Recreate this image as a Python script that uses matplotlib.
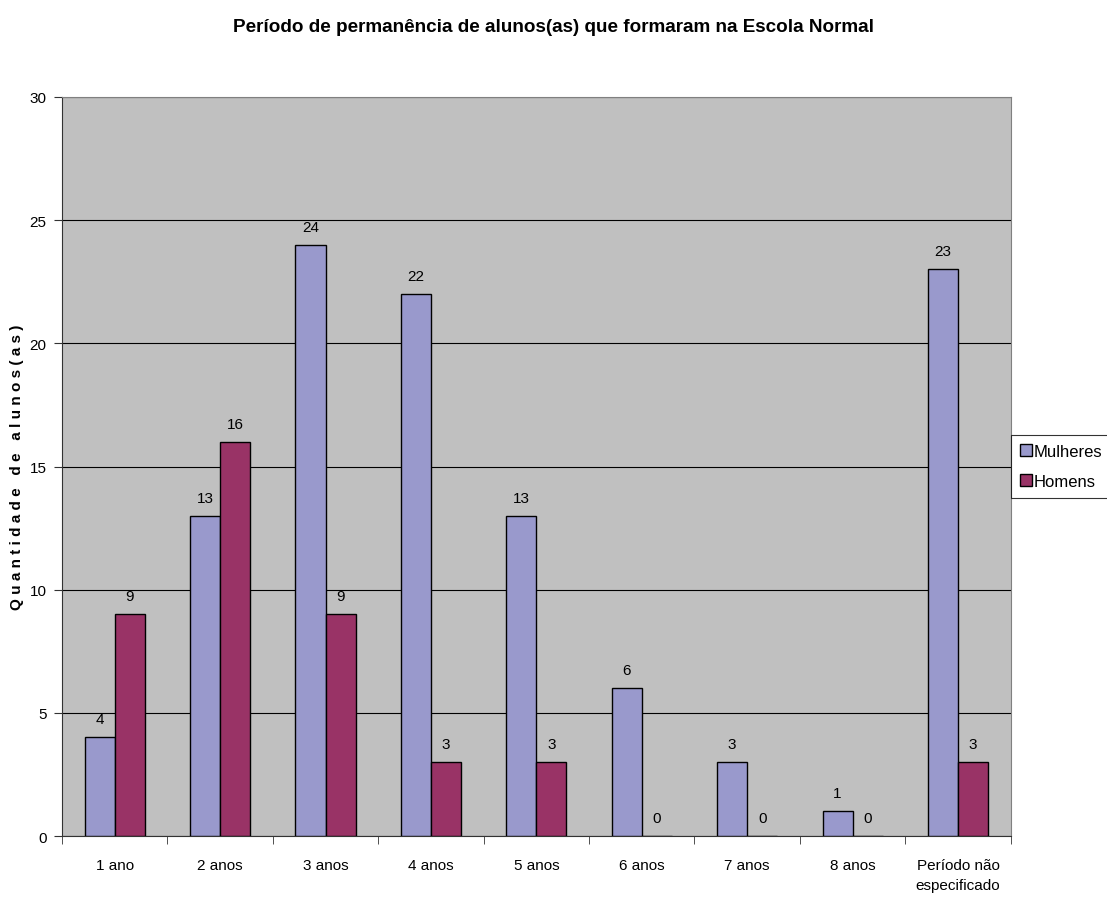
import numpy as np
import matplotlib.pyplot as plt

categorias = ['1 ano', '2 anos', '3 anos', '4 anos', '5 anos', '6 anos',
              '7 anos', '8 anos', 'Período não\nespecificado']
mulheres = [4, 13, 24, 22, 13, 6, 3, 1, 23]
homens = [9, 16, 9, 3, 3, 0, 0, 0, 3]

plt.rcParams['font.family'] = ['Liberation Sans', 'DejaVu Sans']
fs = 11

fig = plt.figure(figsize=(11.07, 9.04), dpi=100)
ax = fig.add_axes([0.056, 0.0741, 0.857, 0.8175])

x = np.arange(len(categorias))
w = 0.285
b1 = ax.bar(x - w / 2, mulheres, w, color='#9999CC', edgecolor='black', linewidth=1, label='Mulheres', zorder=3)
b2 = ax.bar(x + w / 2, homens, w, color='#993366', edgecolor='black', linewidth=1, label='Homens', zorder=3)

# rótulos de valor acima das barras
for barras in (b1, b2):
    for b in barras:
        h = b.get_height()
        ax.text(b.get_x() + b.get_width() / 2, h + 0.45, str(int(h)),
                ha='center', va='bottom', fontsize=fs)

ax.set_facecolor('#C0C0C0')
ax.set_xlim(-0.5, len(categorias) - 0.5)
ax.set_ylim(0, 30)
ax.set_yticks(range(0, 31, 5))
ax.grid(axis='y', color='black', linewidth=0.8, zorder=1)

ax.set_xticks(x)
ax.set_xticklabels(categorias, fontsize=fs, linespacing=1.55)
ax.tick_params(axis='x', length=0, pad=16)
ax.set_xticks(np.arange(-0.5, len(categorias)), minor=True)
ax.tick_params(axis='x', which='minor', length=6, color='#333333')
ax.tick_params(axis='y', labelsize=fs, length=6, color='#333333', pad=5)

for s in ax.spines.values():
    s.set_color('#808080')
ax.spines['left'].set_color('#333333')
ax.spines['bottom'].set_color('#333333')

ax.set_ylabel('Q u a n t i d a d e   d e   a l u n o s ( a s )', fontsize=fs, fontweight='bold')
fig.suptitle('Período de permanência de alunos(as) que formaram na Escola Normal',
             fontsize=13.6, fontweight='bold', y=0.979)

leg = ax.legend(loc='center left', bbox_to_anchor=(1.0, 0.5), fontsize=12,
                frameon=True, fancybox=False, edgecolor='black', handlelength=0.7,
                handletextpad=0.15, borderpad=0.55, labelspacing=0.9, borderaxespad=0.0)
leg.get_frame().set_linewidth(0.8)

fig.savefig('out.png', dpi=100)
